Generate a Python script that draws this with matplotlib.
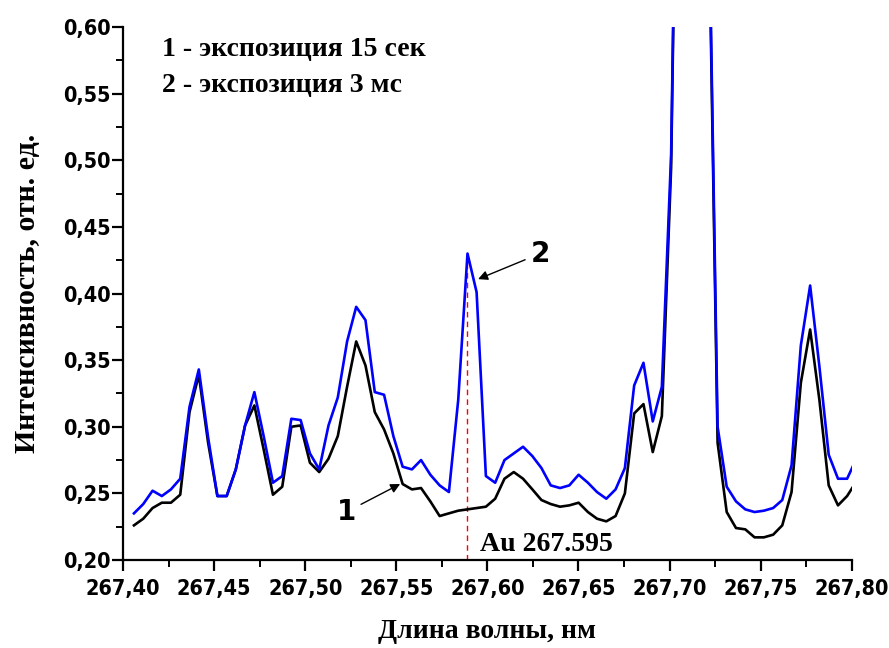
import numpy as np
import matplotlib
matplotlib.use("Agg")
import matplotlib.pyplot as plt
from matplotlib.ticker import MultipleLocator, FuncFormatter

# wavelength grid, nm (sampling step of the spectrometer ~0.0051 nm)
wavelength = [
    267.4060, 267.4111, 267.4162, 267.4213, 267.4263, 267.4314, 267.4365, 267.4416,
    267.4467, 267.4518, 267.4569, 267.4619, 267.4670, 267.4721, 267.4772, 267.4823,
    267.4874, 267.4924, 267.4975, 267.5026, 267.5077, 267.5128, 267.5179, 267.5230,
    267.5280, 267.5331, 267.5382, 267.5433, 267.5484, 267.5535, 267.5586, 267.5636,
    267.5687, 267.5738, 267.5789, 267.5840, 267.5891, 267.5941, 267.5992, 267.6043,
    267.6094, 267.6145, 267.6196, 267.6247, 267.6297, 267.6348, 267.6399, 267.6450,
    267.6501, 267.6552, 267.6602, 267.6653, 267.6704, 267.6755, 267.6806, 267.6857,
    267.6908, 267.6958, 267.7009, 267.7060, 267.7111, 267.7162, 267.7213, 267.7264,
    267.7314, 267.7365, 267.7416, 267.7467, 267.7518, 267.7569, 267.7619, 267.7670,
    267.7721, 267.7772, 267.7823, 267.7874, 267.7925, 267.7975, 267.8026,
]

# curve 1 - exposure 15 s (black)
intensity_15s = [
    0.226, 0.231, 0.239, 0.243, 0.243, 0.249, 0.311, 0.339,
    0.288, 0.248, 0.248, 0.268, 0.301, 0.316, 0.283, 0.249,
    0.255, 0.300, 0.301, 0.273, 0.266, 0.276, 0.293, 0.330,
    0.364, 0.346, 0.311, 0.298, 0.280, 0.257, 0.253, 0.254,
    0.244, 0.233, 0.235, 0.237, 0.238, 0.239, 0.240, 0.246,
    0.261, 0.266, 0.261, 0.253, 0.245, 0.242, 0.240, 0.241,
    0.243, 0.236, 0.231, 0.229, 0.233, 0.250, 0.310, 0.317,
    0.281, 0.308, 0.495, 0.950, 1.450, 1.350, 0.710, 0.288,
    0.236, 0.224, 0.223, 0.217, 0.217, 0.219, 0.226, 0.251,
    0.333, 0.373, 0.320, 0.256, 0.241, 0.248, 0.259,
]

# curve 2 - exposure 3 ms (blue)
intensity_3ms = [
    0.235, 0.242, 0.252, 0.248, 0.253, 0.261, 0.315, 0.343,
    0.292, 0.248, 0.248, 0.268, 0.301, 0.326, 0.293, 0.258,
    0.263, 0.306, 0.305, 0.280, 0.268, 0.301, 0.322, 0.364,
    0.390, 0.380, 0.326, 0.324, 0.293, 0.270, 0.268, 0.275,
    0.264, 0.256, 0.251, 0.320, 0.430, 0.401, 0.263, 0.258,
    0.275, 0.280, 0.285, 0.278, 0.269, 0.256, 0.254, 0.256,
    0.264, 0.258, 0.251, 0.246, 0.253, 0.269, 0.331, 0.348,
    0.304, 0.330, 0.505, 0.960, 1.500, 1.400, 0.720, 0.300,
    0.255, 0.244, 0.238, 0.236, 0.237, 0.239, 0.245, 0.271,
    0.361, 0.406, 0.345, 0.279, 0.261, 0.261, 0.276,
]

au_line = 267.589
legend_lines = ["1 - экспозиция 15 сек", "2 - экспозиция 3 мс"]

sans = ["DejaVu Sans", "Liberation Sans"]
serif = ["Liberation Serif", "DejaVu Serif"]

fig = plt.figure(figsize=(8.89, 6.48), dpi=100)
ax = fig.add_axes([0.1384, 0.1358, 0.8196, 0.8225])

ax.plot(wavelength, intensity_15s, color="black", lw=1.9, zorder=3)
ax.plot(wavelength, intensity_3ms, color="#0000ff", lw=1.9, zorder=4)

ax.plot([au_line, au_line], [0.20, 0.428], color="red", lw=1.0,
        ls=(0, (4, 3)), zorder=2)

ax.set_xlim(267.40, 267.80)
ax.set_ylim(0.20, 0.60)

for s in ["top", "right"]:
    ax.spines[s].set_visible(False)
for s in ["left", "bottom"]:
    ax.spines[s].set_linewidth(1.6)

ax.xaxis.set_major_locator(MultipleLocator(0.05))
ax.xaxis.set_minor_locator(MultipleLocator(0.025))
ax.yaxis.set_major_locator(MultipleLocator(0.05))
ax.yaxis.set_minor_locator(MultipleLocator(0.025))
ax.tick_params(which="major", direction="out", length=8, width=1.6)
ax.tick_params(which="minor", direction="out", length=5, width=1.4)
ax.tick_params(axis="x", which="major", pad=6)
ax.tick_params(axis="y", which="major", pad=1)

comma = FuncFormatter(lambda v, p: f"{v:.2f}".replace(".", ","))
ax.xaxis.set_major_formatter(comma)
ax.yaxis.set_major_formatter(comma)
for lab in ax.get_xticklabels() + ax.get_yticklabels():
    lab.set_family(sans)
    lab.set_fontweight("bold")
    lab.set_fontstretch("condensed")
    lab.set_fontsize(15.5)

ax.set_xlabel("Длина волны, нм", family=serif, fontweight="bold",
              fontsize=20, labelpad=14)
ax.set_ylabel("Интенсивность, отн. ед.", family=serif, fontweight="bold",
              fontsize=21.5, labelpad=16)

ax.text(0.054, 0.958, legend_lines[0], transform=ax.transAxes, family=serif,
        fontweight="bold", fontsize=20, va="center")
ax.text(0.054, 0.890, legend_lines[1], transform=ax.transAxes, family=serif,
        fontweight="bold", fontsize=20, va="center")

ax.text(267.596, 0.2025, "Au 267.595", family=serif, fontweight="bold",
        fontsize=20, va="bottom")

arrow = dict(arrowstyle="-|>", color="black", lw=1.0, mutation_scale=14)
ax.annotate("2", xy=(267.5935, 0.410), xytext=(267.629, 0.430),
            family=sans, fontweight="bold", fontsize=20, ha="center",
            va="center", arrowprops=arrow)
ax.annotate("1", xy=(267.5535, 0.258), xytext=(267.5225, 0.236),
            family=sans, fontweight="bold", fontsize=20, ha="center",
            va="center", arrowprops=arrow)

fig.savefig("out.png", dpi=100)
